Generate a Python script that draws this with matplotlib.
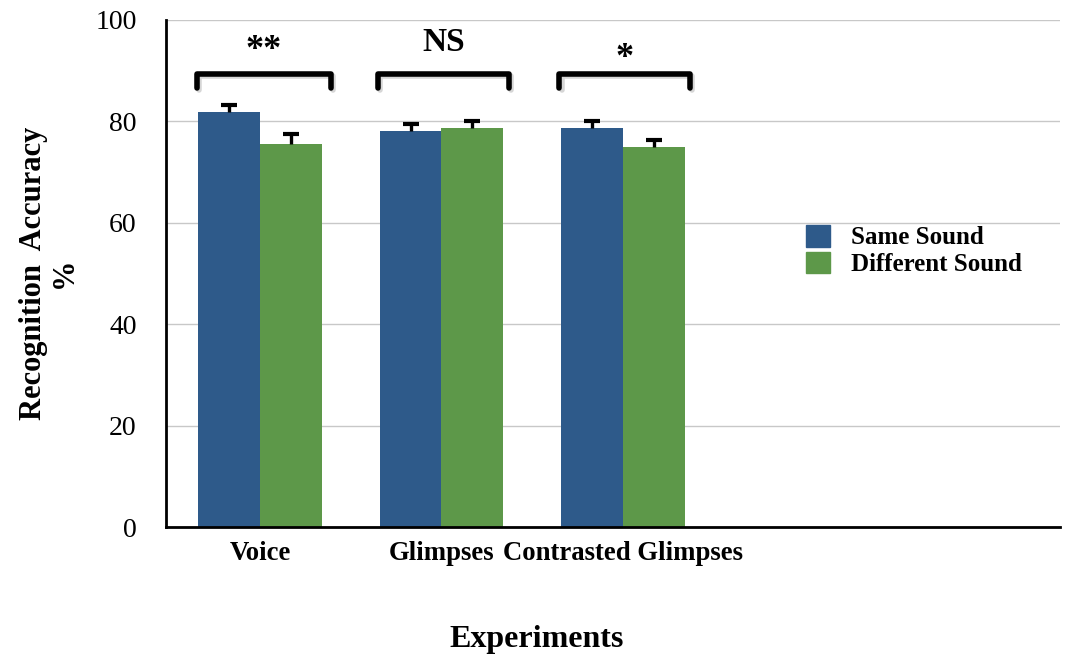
import matplotlib
matplotlib.use("Agg")
import matplotlib.pyplot as plt
import numpy as np
from matplotlib.patches import Patch

categories = ["Voice", "Glimpses", "Contrasted Glimpses", "", ""]
same_sound = [81.8, 78.0, 78.6]
diff_sound = [75.5, 78.6, 74.9]
same_err = [1.4, 1.5, 1.5]
diff_err = [2.0, 1.5, 1.4]
sig_labels = ["**", "NS", "*"]
series_names = ["Same Sound", "Different Sound"]

plt.rcParams['font.family'] = ['Liberation Serif', 'DejaVu Serif']

fig = plt.figure(figsize=(10.74, 6.54), dpi=100)
ax = fig.add_axes([0.1546, 0.194, 0.987 - 0.1546, 0.970 - 0.194])

blue = "#2E5A8A"
green = "#5D9849"
w = 0.34
x = np.arange(len(same_sound))

ax.set_ylim(0, 100)
ax.set_xlim(-0.518, 4.41)
ax.set_yticks([0, 20, 40, 60, 80, 100])
ax.yaxis.grid(True, color="#C8C8C8", linewidth=1.0)
ax.set_axisbelow(True)

ax.bar(x - w / 2, same_sound, w, color=blue, zorder=2)
ax.bar(x + w / 2, diff_sound, w, color=green, zorder=2)
for xs_, vals, errs in [(x - w / 2, same_sound, same_err),
                        (x + w / 2, diff_sound, diff_err)]:
    eb = ax.errorbar(xs_, vals, yerr=[np.zeros(len(vals)), errs], fmt="none",
                     ecolor="black", elinewidth=2.4, capsize=6, capthick=3.0,
                     zorder=3)
    eb[1][0].set_visible(False)

# significance brackets
for i, lab in enumerate(sig_labels):
    x0 = i - w - 0.01
    x1 = i + w + 0.05 if i == 0 else i + w + 0.03
    xs = [x0, x0, x1, x1]
    ys = [86.6, 89.3, 89.3, 86.6]
    ax.plot([v + 0.012 for v in xs], [v - 0.5 for v in ys], color="#BBBBBB",
            linewidth=4.0, solid_joinstyle="round", solid_capstyle="round",
            zorder=3, clip_on=False, alpha=0.6)
    ax.plot(xs, ys, color="black", linewidth=4.0, solid_joinstyle="round",
            solid_capstyle="round", zorder=4, clip_on=False)
    ypos = {"**": 94.0, "NS": 95.5, "*": 92.3}[lab]
    ax.text((x0 + x1) / 2, ypos, lab, ha="center", va="center",
            fontsize=26 if lab != "NS" else 24, fontweight="bold")

ax.set_xticks(np.arange(len(categories)))
ax.set_xticklabels(categories, fontsize=19.3, fontweight="bold")
ax.tick_params(axis="x", length=0, pad=10)
ax.tick_params(axis="y", length=0, labelsize=20, pad=21)

for s in ["top", "right"]:
    ax.spines[s].set_visible(False)
ax.spines["left"].set_linewidth(2.0)
ax.spines["bottom"].set_linewidth(2.0)

fig.text(0.5, 1 - 639 / 654, "Experiments", fontsize=23, fontweight="bold",
         ha="center", va="center")
fig.text(49 / 1074, 1 - 273 / 654, "Recognition  Accuracy\n%", fontsize=22,
         fontweight="bold", rotation=90, ha="center", va="center",
         multialignment="center", linespacing=1.12)

handles = [Patch(color=blue), Patch(color=green)]
leg = ax.legend(handles, series_names, loc="upper left",
                bbox_to_anchor=(806 / 1074, 1 - 225 / 654),
                bbox_transform=fig.transFigure, frameon=False,
                borderaxespad=0, borderpad=0,
                prop={"weight": "bold", "size": 18},
                handlelength=0.95, handleheight=0.95, handletextpad=0.85,
                labelspacing=0.1)

fig.savefig("out.png", dpi=100)
